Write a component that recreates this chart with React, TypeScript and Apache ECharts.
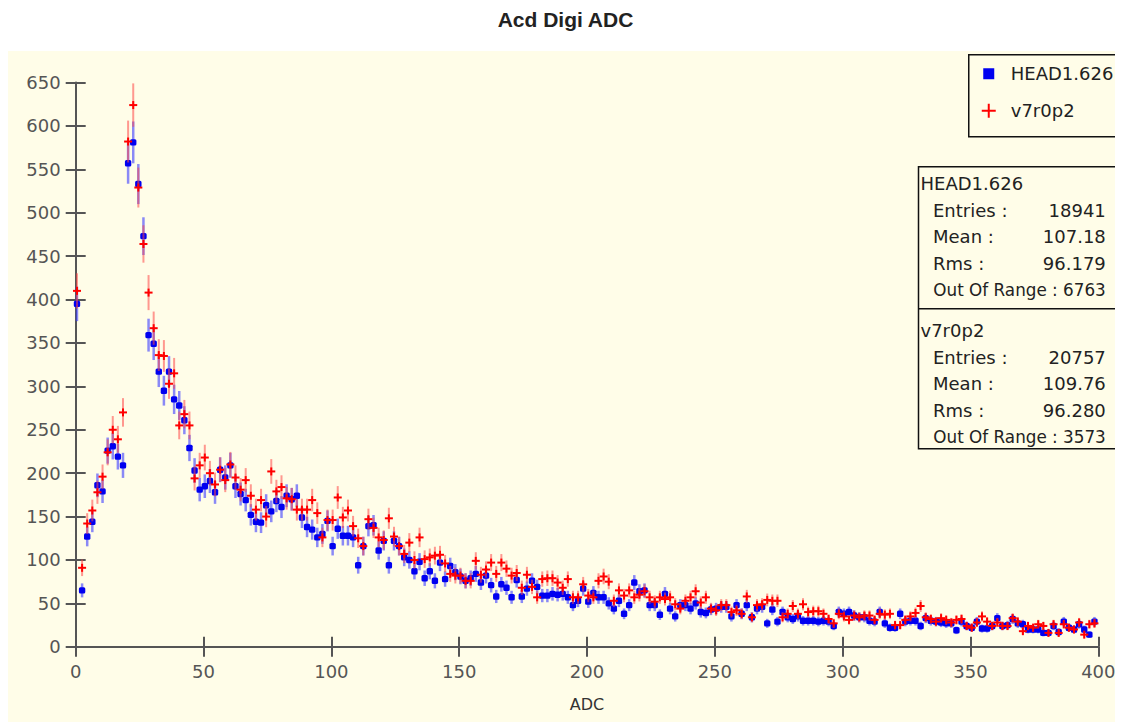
import React, { useEffect, useRef } from "react";
import * as echarts from "echarts";

// ADC histogram: 200 bins of width 2 (0..400)
const BIN_WIDTH = 2;
const headValues: number[] = [
  395, 65, 127, 144, 186, 179, 226, 231, 219, 209,
  557, 581, 533, 473, 359, 349, 317, 295, 317, 285,
  278, 261, 229, 203, 181, 185, 191, 178, 204, 195,
  209, 185, 176, 169, 152, 144, 143, 163, 156, 168,
  161, 174, 170, 174, 149, 138, 135, 126, 130, 145,
  116, 136, 128, 128, 126, 94, 116, 139, 140, 111,
  122, 94, 122, 116, 103, 100, 87, 98, 79, 87,
  76, 97, 78, 93, 86, 81, 76, 79, 84, 74,
  82, 71, 58, 72, 68, 57, 77, 58, 67, 76,
  69, 59, 59, 61, 60, 61, 57, 48, 53, 67,
  52, 62, 57, 57, 50, 44, 53, 38, 48, 74,
  64, 65, 48, 48, 37, 61, 44, 35, 48, 48,
  44, 50, 40, 39, 43, 44, 46, 46, 35, 48,
  38, 48, 34, 44, 46, 27, 43, 29, 40, 34,
  32, 35, 30, 30, 30, 29, 30, 29, 24, 40,
  38, 40, 36, 34, 34, 30, 29, 40, 27, 22,
  22, 38, 29, 30, 30, 24, 33, 30, 29, 28,
  27, 27, 19, 29, 24, 22, 29, 21, 21, 24,
  33, 24, 25, 32, 27, 26, 20, 20, 20, 16,
  16, 24, 17, 29, 22, 20, 26, 20, 14, 29,
];
const v7Values: number[] = [
  410, 91, 142, 157, 178, 196, 224, 250, 239, 270,
  582, 624, 529, 464, 408, 367, 336, 335, 303, 315,
  255, 268, 255, 194, 209, 218, 200, 187, 204, 192,
  210, 195, 181, 192, 174, 158, 169, 150, 202, 179,
  184, 171, 170, 158, 158, 158, 169, 154, 126, 146,
  146, 172, 149, 157, 139, 125, 116, 147, 137, 126,
  123, 148, 127, 116, 107, 120, 100, 126, 101, 103,
  105, 106, 96, 84, 82, 82, 76, 76, 99, 83,
  89, 97, 84, 97, 90, 82, 85, 68, 83, 69,
  57, 78, 79, 79, 74, 68, 78, 57, 57, 72,
  59, 57, 76, 81, 75, 53, 65, 59, 65, 57,
  60, 64, 57, 52, 57, 55, 57, 49, 44, 53,
  57, 64, 51, 57, 44, 42, 48, 48, 40, 42,
  38, 58, 34, 48, 49, 54, 53, 53, 34, 38,
  47, 38, 49, 40, 41, 41, 38, 32, 27, 38,
  35, 31, 36, 34, 36, 36, 31, 38, 37, 38,
  25, 25, 31, 35, 39, 47, 34, 32, 29, 33,
  31, 28, 31, 32, 24, 22, 28, 35, 29, 24,
  28, 24, 24, 33, 29, 18, 24, 22, 26, 24,
  16, 26, 16, 26, 22, 20, 28, 14, 26, 27,
];
const xTicks = [0, 50, 100, 150, 200, 250, 300, 350, 400];
const seriesNames = ["HEAD1.626", "v7r0p2"];
// [label, value]; an empty value means the label is the whole line
const headStats: [string, string][] = [
  ["Entries :", "18941"],
  ["Mean :", "107.18"],
  ["Rms :", "96.179"],
  ["Out Of Range : 6763", ""],
];
const v7Stats: [string, string][] = [
  ["Entries :", "20757"],
  ["Mean :", "109.76"],
  ["Rms :", "96.280"],
  ["Out Of Range : 3573", ""],
];

const FONT = "'DejaVu Sans', Verdana, sans-serif";
const BOX_FONT = `18px ${FONT}`;
const LINE_FONT = `16.8px ${FONT}`;

function toData(vals: number[]) {
  // [bin centre, count, poisson error]
  return vals.map((v, i) => [i * BIN_WIDTH + 0.5, v, Math.sqrt(v)]);
}

function headRender(params: any, api: any) {
  const x = api.value(0);
  const y = api.value(1);
  const e = api.value(2);
  const c = api.coord([x, y]);
  const hi = api.coord([x, y + e]);
  const lo = api.coord([x, Math.max(0, y - e)]);
  return {
    type: "group",
    children: [
      {
        type: "line",
        shape: { x1: c[0], y1: hi[1], x2: c[0], y2: lo[1] },
        style: { stroke: "rgba(60,60,255,0.6)", lineWidth: 2.5 },
      },
      {
        type: "rect",
        shape: { x: c[0] - 3.2, y: c[1] - 3.2, width: 6.4, height: 6.4, r: 1.5 },
        style: { fill: "#0000f0" },
      },
    ],
  };
}

function v7Render(params: any, api: any) {
  const x = api.value(0);
  const y = api.value(1);
  const e = api.value(2);
  const c = api.coord([x, y]);
  const hi = api.coord([x, y + e]);
  const lo = api.coord([x, Math.max(0, y - e)]);
  return {
    type: "group",
    children: [
      {
        type: "line",
        shape: { x1: c[0], y1: hi[1], x2: c[0], y2: lo[1] },
        style: { stroke: "rgba(255,70,70,0.55)", lineWidth: 2 },
      },
      {
        type: "line",
        shape: { x1: c[0] - 4, y1: c[1], x2: c[0] + 4, y2: c[1] },
        style: { stroke: "#ff0000", lineWidth: 2 },
      },
      {
        type: "line",
        shape: { x1: c[0], y1: c[1] - 4, x2: c[0], y2: c[1] + 4 },
        style: { stroke: "#ff0000", lineWidth: 2 },
      },
    ],
  };
}

function statsGroup(title: string, rows: [string, string][], top: number) {
  const children: any[] = [
    {
      type: "text",
      x: 2,
      y: top,
      style: { text: title, font: BOX_FONT, fill: "#222", textVerticalAlign: "middle" },
    },
  ];
  rows.forEach((r, i) => {
    const yy = top + 26.6 * (i + 1);
    if (r[1]) {
      children.push({
        type: "text",
        x: 14.5,
        y: yy,
        style: { text: r[0], font: BOX_FONT, fill: "#222", textVerticalAlign: "middle" },
      });
      children.push({
        type: "text",
        x: 187.3,
        y: yy,
        style: {
          text: r[1],
          font: BOX_FONT,
          fill: "#222",
          textAlign: "right",
          textVerticalAlign: "middle",
        },
      });
    } else {
      children.push({
        type: "text",
        x: 187.3,
        y: yy,
        style: {
          text: r[0],
          font: LINE_FONT,
          fill: "#222",
          textAlign: "right",
          textVerticalAlign: "middle",
        },
      });
    }
  });
  return children;
}

export default function App() {
  const ref = useRef<HTMLDivElement>(null);
  useEffect(() => {
    if (!ref.current) return;
    const chart = echarts.init(ref.current, null, { renderer: "svg" });
    const axisColor = "#555";
    const option: any = {
      animation: false,
      backgroundColor: "#ffffff",
      title: {
        text: "Acd Digi ADC",
        left: "center",
        top: 1,
        padding: 0,
        textStyle: {
          fontFamily: "'Liberation Sans', Arial, sans-serif",
          fontWeight: "bold",
          fontSize: 21,
          color: "#222",
        },
      },
      grid: { left: 67.7, right: 24.7, top: 74.5, bottom: 75.2, containLabel: false },
      xAxis: [
        {
          type: "value",
          min: 0,
          max: 400,
          interval: 50,
          name: "ADC",
          nameLocation: "middle",
          nameGap: 50,
          nameTextStyle: { fontFamily: FONT, fontSize: 16, color: "#333" },
          axisLine: { lineStyle: { color: axisColor, width: 2 } },
          axisTick: { length: 10, lineStyle: { color: axisColor, width: 2 } },
          axisLabel: {
            fontFamily: FONT,
            fontSize: 18,
            color: "#555",
            margin: 16,
            formatter: (v: number) => (xTicks.includes(v) ? String(v) : ""),
          },
          splitLine: { show: false },
        },
        {
          type: "value",
          min: 0,
          max: 400,
          interval: 50,
          position: "bottom",
          axisLine: { show: false },
          axisTick: { inside: true, length: 10, lineStyle: { color: axisColor, width: 2 } },
          axisLabel: { show: false },
          splitLine: { show: false },
        },
      ],
      yAxis: [
        {
          type: "value",
          min: 0,
          max: 650,
          interval: 50,
          axisLine: { show: true, lineStyle: { color: axisColor, width: 2 } },
          axisTick: { show: true, length: 10, lineStyle: { color: axisColor, width: 2 } },
          axisLabel: { fontFamily: FONT, fontSize: 18, color: "#555", margin: 15 },
          splitLine: { show: false },
        },
        {
          type: "value",
          min: 0,
          max: 650,
          interval: 50,
          position: "left",
          axisLine: { show: false },
          axisTick: { show: true, inside: true, length: 10, lineStyle: { color: axisColor, width: 2 } },
          axisLabel: { show: false },
          splitLine: { show: false },
        },
      ],
      series: [
        {
          name: seriesNames[0],
          type: "custom",
          xAxisIndex: 0,
          yAxisIndex: 0,
          renderItem: headRender,
          encode: { x: 0, y: 1 },
          data: toData(headValues),
          z: 3,
        },
        {
          name: seriesNames[1],
          type: "custom",
          xAxisIndex: 0,
          yAxisIndex: 0,
          renderItem: v7Render,
          encode: { x: 0, y: 1 },
          data: toData(v7Values),
          z: 4,
        },
      ],
      graphic: [
        {
          type: "rect",
          left: 0,
          top: 43,
          shape: { width: 1115, height: 671 },
          style: { fill: "#fffde8" },
          z: -10,
          silent: true,
        },
        {
          type: "group",
          left: 960,
          top: 46,
          z: 20,
          children: [
            {
              type: "rect",
              shape: { x: 0, y: 0, width: 151, height: 82 },
              style: { fill: "#fffde8", stroke: "#111", lineWidth: 1.5 },
            },
            {
              type: "rect",
              shape: { x: 14.5, y: 13.5, width: 11, height: 11 },
              style: { fill: "#0000f0" },
            },
            {
              type: "text",
              x: 42,
              y: 19,
              style: { text: seriesNames[0], font: BOX_FONT, fill: "#222", textVerticalAlign: "middle" },
            },
            {
              type: "line",
              shape: { x1: 13, y1: 56, x2: 27, y2: 56 },
              style: { stroke: "#ff0000", lineWidth: 2 },
            },
            {
              type: "line",
              shape: { x1: 20, y1: 49, x2: 20, y2: 63 },
              style: { stroke: "#ff0000", lineWidth: 2 },
            },
            {
              type: "text",
              x: 42,
              y: 56,
              style: { text: seriesNames[1], font: BOX_FONT, fill: "#222", textVerticalAlign: "middle" },
            },
          ],
        },
        {
          type: "group",
          left: 908,
          top: 158,
          z: 20,
          children: [
            {
              type: "rect",
              shape: { x: 0, y: 0, width: 204, height: 282 },
              style: { fill: "#fffde8", stroke: "#111", lineWidth: 1.5 },
            },
            {
              type: "line",
              shape: { x1: 0, y1: 142, x2: 204, y2: 142 },
              style: { stroke: "#111", lineWidth: 1.5 },
            },
            ...statsGroup(seriesNames[0], headStats, 16.7),
            ...statsGroup(seriesNames[1], v7Stats, 164),
          ],
        },
      ],
    };
    chart.setOption(option);
    return () => chart.dispose();
  }, []);
  return <div ref={ref} style={{ width: 1115, height: 714 }} />;
}
